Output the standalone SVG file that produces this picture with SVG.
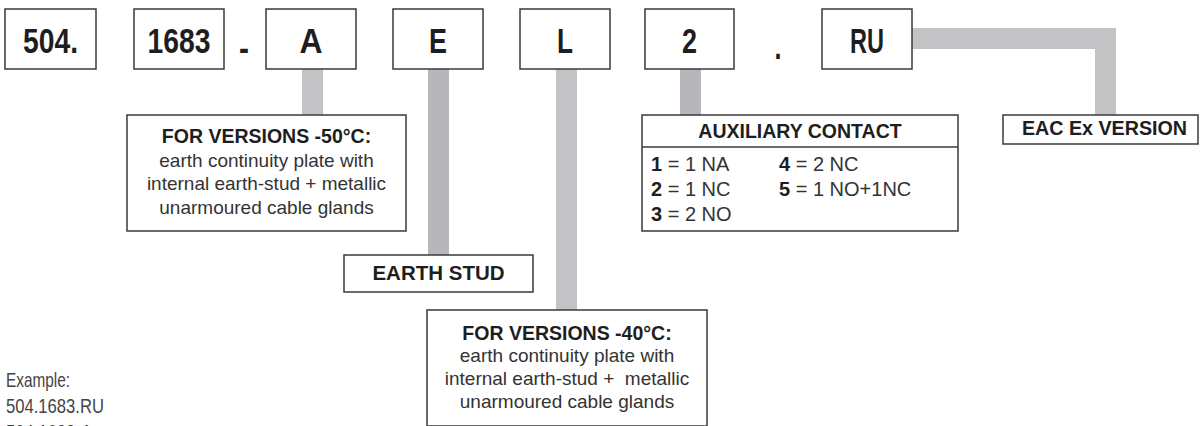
<svg xmlns="http://www.w3.org/2000/svg" width="1200" height="426" viewBox="0 0 1200 426">
<style>
.box{fill:#fff;stroke:#3a3a3a;stroke-width:1.5}
.bar{fill:#c3c3c6}
.bar2{fill:#b7b7bb}
.code{font-family:"Liberation Sans",Arial,sans-serif;font-weight:bold;font-size:35px;fill:#1e1e1e;text-anchor:middle}
.hd{font-family:"Liberation Sans",Arial,sans-serif;font-weight:bold;font-size:19.5px;fill:#1e1e1e;text-anchor:middle}
.bd{font-family:"Liberation Sans",Arial,sans-serif;font-size:19px;fill:#333;text-anchor:middle;white-space:pre}
.row{font-family:"Liberation Sans",Arial,sans-serif;font-size:20px;fill:#333}
.row tspan.b{font-weight:bold;fill:#1e1e1e}
.ex{font-family:"Liberation Sans",Arial,sans-serif;font-size:21px;fill:#444}
</style>
<g id="connectors">
<rect class="bar" x="302" y="69" width="21" height="46"/>
<rect class="bar2" x="428" y="69" width="21" height="186"/>
<rect class="bar" x="556" y="69" width="21" height="241"/>
<rect class="bar2" x="680" y="69" width="21" height="46"/>
<path class="bar" d="M912 28 H1116 V115 H1095 V49 H912 Z"/>
</g>
<g id="n504"><rect class="box" x="5" y="9" width="91" height="60"/><text class="code" x="50.5" y="53" textLength="55" lengthAdjust="spacingAndGlyphs">504.</text></g>
<g id="n1683"><rect class="box" x="134" y="9" width="90" height="60"/><text class="code" x="179" y="53" textLength="63" lengthAdjust="spacingAndGlyphs">1683</text></g>
<g id="dash"><text class="code" x="244" y="60" textLength="10" lengthAdjust="spacingAndGlyphs">-</text></g>
<g id="nA"><rect class="box" x="266" y="9" width="90" height="60"/><text class="code" x="311" y="53" textLength="23" lengthAdjust="spacingAndGlyphs">A</text></g>
<g id="nE"><rect class="box" x="393" y="9" width="90" height="60"/><text class="code" x="438" y="53" textLength="18" lengthAdjust="spacingAndGlyphs">E</text></g>
<g id="nL"><rect class="box" x="520" y="9" width="90" height="60"/><text class="code" x="565" y="53" textLength="16" lengthAdjust="spacingAndGlyphs">L</text></g>
<g id="n2"><rect class="box" x="645" y="9" width="89" height="60"/><text class="code" x="689.5" y="53" textLength="15" lengthAdjust="spacingAndGlyphs">2</text></g>
<g id="dot"><text class="code" x="778" y="59" textLength="7" lengthAdjust="spacingAndGlyphs">.</text></g>
<g id="nRU"><rect class="box" x="822" y="9" width="90" height="60"/><text class="code" x="867" y="53" textLength="34" lengthAdjust="spacingAndGlyphs">RU</text></g>
<g id="v50">
<rect class="box" x="127" y="115" width="279" height="116"/>
<text class="hd" x="266.5" y="143">FOR VERSIONS -50°C:</text>
<text class="bd" x="266.5" y="167">earth continuity plate with</text>
<text class="bd" x="266.5" y="190">internal earth-stud + metallic</text>
<text class="bd" x="266.5" y="214">unarmoured cable glands</text>
</g>
<g id="earthstud">
<rect class="box" x="344" y="255" width="189" height="37"/>
<text class="hd" x="438.5" y="280" font-size="20.5" style="font-size:20.5px">EARTH STUD</text>
</g>
<g id="v40">
<rect class="box" x="427" y="310" width="280" height="116"/>
<text class="hd" x="567" y="340">FOR VERSIONS -40°C:</text>
<text class="bd" x="567" y="362">earth continuity plate with</text>
<text class="bd" x="567" y="385">internal earth-stud +  metallic</text>
<text class="bd" x="567" y="408">unarmoured cable glands</text>
</g>
<g id="aux">
<rect class="box" x="642" y="115" width="316" height="116"/>
<line x1="642" y1="147" x2="958" y2="147" stroke="#3a3a3a" stroke-width="1.5"/>
<text class="hd" x="800" y="138">AUXILIARY CONTACT</text>
<text class="row" x="651" y="171"><tspan class="b">1</tspan> = 1 NA</text>
<text class="row" x="651" y="196"><tspan class="b">2</tspan> = 1 NC</text>
<text class="row" x="651" y="221"><tspan class="b">3</tspan> = 2 NO</text>
<text class="row" x="779" y="171"><tspan class="b">4</tspan> = 2 NC</text>
<text class="row" x="779" y="196"><tspan class="b">5</tspan> = 1 NO+1NC</text>
</g>
<g id="eac">
<rect class="box" x="1003" y="115" width="195" height="29"/>
<text class="hd" x="1104.5" y="135" textLength="165" lengthAdjust="spacingAndGlyphs">EAC Ex VERSION</text>
</g>
<g id="example">
<text class="ex" x="6" y="387" textLength="64" lengthAdjust="spacingAndGlyphs">Example:</text>
<text class="ex" x="6" y="413" textLength="98" lengthAdjust="spacingAndGlyphs">504.1683.RU</text>
<text class="ex" x="6" y="439" textLength="86" lengthAdjust="spacingAndGlyphs">504.1683-A</text>
</g>
</svg>
